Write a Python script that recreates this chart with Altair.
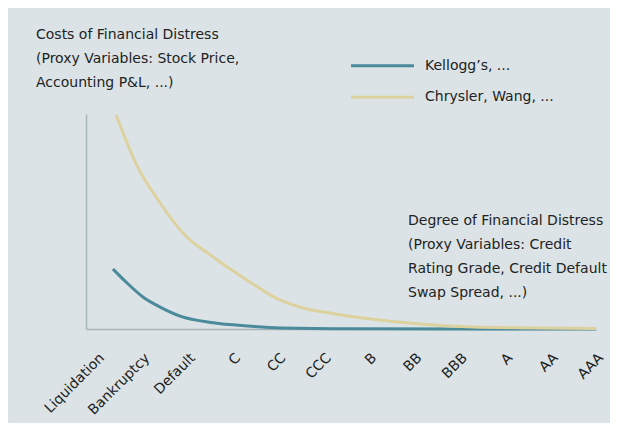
import altair as alt
import pandas as pd

# ---- data ----
categories = ["Liquidation", "Bankruptcy", "Default", "C", "CC", "CCC",
              "B", "BB", "BBB", "A", "AA", "AAA"]
category_pos = list(range(len(categories)))

kellogg_x = [0.22, 0.53, 0.88, 1.26, 1.70, 2.43, 3.18, 3.90, 5.45, 10.87]
kellogg_y = [27.9, 21.4, 14.9, 10.2, 6.0, 2.9, 1.4, 0.5, 0.1, 0.0]

chrysler_x = [0.29, 0.74, 1.26, 1.76, 2.43, 3.17, 3.90, 4.41, 5.00, 5.73,
              6.99, 8.16, 9.63, 10.87]
chrysler_y = [99.5, 76.3, 58.6, 44.7, 33.5, 22.8, 13.5, 9.8, 7.4, 5.1,
              2.3, 0.9, 0.5, 0.2]

series_names = ["Kellogg’s, ...", "Chrysler, Wang, ..."]
series_colors = ["#4a8a9b", "#ddd29f"]

y_title_text = "Costs of Financial Distress\n(Proxy Variables: Stock Price,\nAccounting P&L, ...)"
x_title_text = "Degree of Financial Distress\n(Proxy Variables: Credit\nRating Grade, Credit Default\nSwap Spread, ...)"

# ---- tables ----
lines_df = pd.concat([
    pd.DataFrame({"x": kellogg_x, "y": kellogg_y, "series": series_names[0], "o": range(len(kellogg_x))}),
    pd.DataFrame({"x": chrysler_x, "y": chrysler_y, "series": series_names[1], "o": range(len(chrysler_x))}),
], ignore_index=True)
labels_df = pd.DataFrame({"pos": category_pos, "label": categories})

FONT = "DejaVu Sans"
TXT = "#222222"
AXIS_COL = "#a6b4b9"

xscale = alt.Scale(domain=[-0.375, 10.87], nice=False, zero=False)
yscale = alt.Scale(domain=[0, 100], nice=False)
xaxis = alt.Axis(labels=False, ticks=False, grid=False, domain=True,
                 domainColor=AXIS_COL, domainWidth=1.5, title=None)
yaxis = alt.Axis(labels=False, ticks=False, grid=False, domain=True,
                 domainColor=AXIS_COL, domainWidth=1.5, title=None)
color_scale = alt.Scale(domain=series_names, range=series_colors)

lines = alt.Chart(lines_df).mark_line(strokeWidth=3, interpolate="monotone").encode(
    x=alt.X("x:Q", scale=xscale, axis=xaxis),
    y=alt.Y("y:Q", scale=yscale, axis=yaxis),
    color=alt.Color("series:N", sort=series_names, scale=color_scale, legend=None),
    order="o:Q",
)

# legend drawn by hand (one row per series)
legend_layers = []
for i, name in enumerate(series_names):
    row_y = -48.3 + i * 31.6
    src = pd.DataFrame({"series": [name]})
    legend_layers.append(
        alt.Chart(src).mark_rule(strokeWidth=3).encode(
            x=alt.value(265), x2=alt.value(328), y=alt.value(row_y),
            color=alt.Color("series:N", scale=color_scale, legend=None),
        )
    )
    legend_layers.append(
        alt.Chart(src).mark_text(align="left", baseline="middle", font=FONT,
                                 fontSize=14, color=TXT).encode(
            x=alt.value(339), y=alt.value(row_y), text="series:N",
        )
    )

xlabels = alt.Chart(labels_df).mark_text(
    angle=315, align="right", baseline="top", font=FONT, fontSize=14, color=TXT,
    dx=-4, dy=-4
).encode(
    x=alt.X("pos:Q", scale=xscale, axis=xaxis),
    y=alt.value(237),
    text="label:N",
)

ytitle = alt.Chart(pd.DataFrame({"t": [y_title_text]})).mark_text(
    align="left", baseline="alphabetic", lineBreak="\n", lineHeight=24,
    font=FONT, fontSize=14, color=TXT
).encode(x=alt.value(-50), y=alt.value(-75), text="t:N")

xtitle = alt.Chart(pd.DataFrame({"t": [x_title_text]})).mark_text(
    align="left", baseline="alphabetic", lineBreak="\n", lineHeight=24,
    font=FONT, fontSize=14, color=TXT
).encode(x=alt.value(322), y=alt.value(111), text="t:N")

chart = alt.layer(lines, xlabels, ytitle, xtitle, *legend_layers).properties(
    width=510, height=215,
    autosize=alt.AutoSizeParams(type="none"),
    padding={"left": 78, "top": 106, "right": 14, "bottom": 94},
    background="#dbe3e6",
).configure_view(stroke=None)

chart.save("out.html", embed_options={"renderer": "svg", "actions": False})
